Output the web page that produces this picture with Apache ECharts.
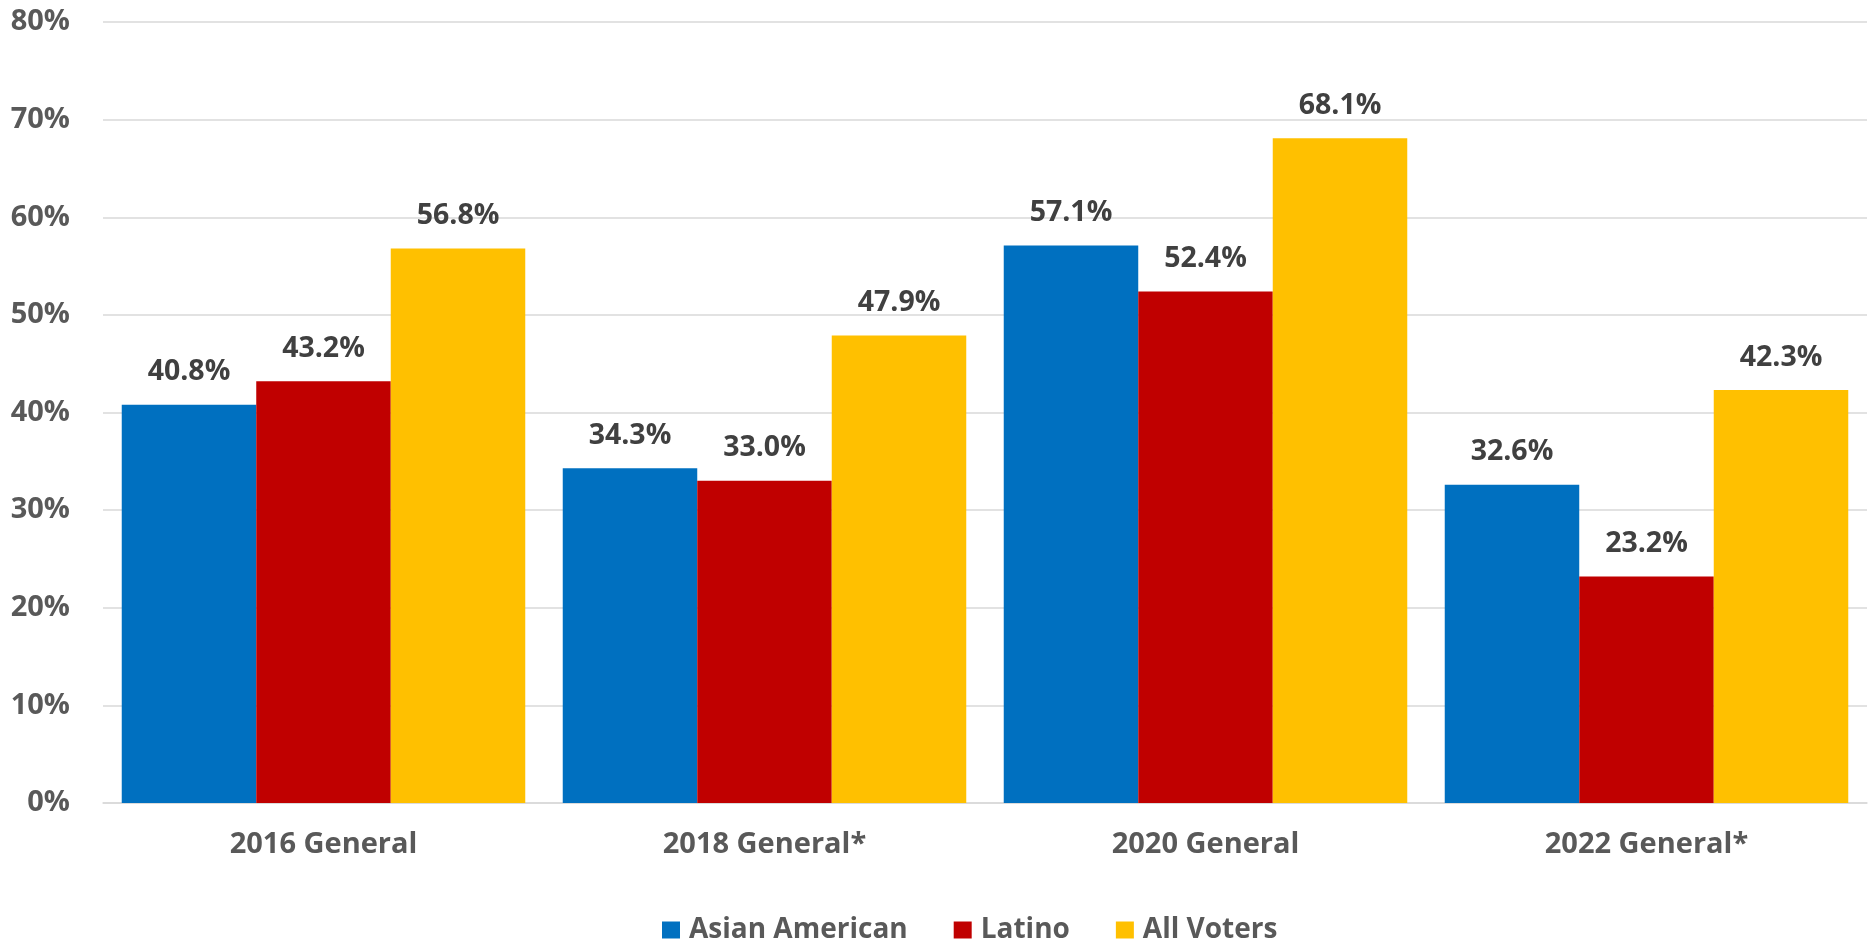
<!DOCTYPE html>
<html>
<head>
<meta charset="utf-8">
<script src="https://cdn.jsdelivr.net/npm/echarts@6/dist/echarts.min.js"></script>
<style>
html,body{margin:0;padding:0;background:#fff;}
#chart{width:1870px;height:940px;}
</style>
</head>
<body>
<div id="chart"></div>
<script>
const categories = ['2016 General', '2018 General*', '2020 General', '2022 General*'];
const asianAmerican = [40.8, 34.3, 57.1, 32.6];
const latino = [43.2, 33.0, 52.4, 23.2];
const allVoters = [56.8, 47.9, 68.1, 42.3];
const seriesNames = ['Asian American', 'Latino', 'All Voters'];
const seriesColors = ['#0070C0', '#C00000', '#FFC000'];
const yTicks = { min: 0, max: 80, interval: 10 };

const font = '"Open Sans", "DejaVu Sans", sans-serif';
const chart = echarts.init(document.getElementById('chart'));

function makeSeries(name, data, color) {
  return {
    name: name,
    type: 'bar',
    data: data,
    barGap: '0%',
    barCategoryGap: '8.5%',
    itemStyle: { color: color },
    label: {
      show: true,
      position: 'top',
      distance: 18,
      fontFamily: font,
      fontWeight: 'bold',
      fontSize: 28.5,
      color: '#404040',
      formatter: p => p.value.toFixed(1) + '%'
    },
    emphasis: { disabled: true }
  };
}

chart.setOption({
  backgroundColor: '#ffffff',
  animation: false,
  grid: { left: 103, right: 3, top: 22, bottom: 137, containLabel: false },
  legend: {
    data: seriesNames,
    left: 657,
    top: 911,
    itemWidth: 18,
    itemHeight: 17,
    itemGap: 46,
    icon: 'rect',
    textStyle: { fontFamily: font, fontWeight: 'bold', fontSize: 28, color: '#595959', padding: [0, 0, 0, 4] }
  },
  xAxis: {
    type: 'category',
    data: categories,
    axisLine: { show: true, lineStyle: { color: '#D9D9D9', width: 1.5 } },
    axisTick: { show: false },
    axisLabel: { margin: 27, fontFamily: font, fontWeight: 'bold', fontSize: 29, color: '#595959' }
  },
  yAxis: {
    type: 'value',
    min: yTicks.min,
    max: yTicks.max,
    interval: yTicks.interval,
    axisLine: { show: false },
    axisTick: { show: false },
    splitLine: { lineStyle: { color: '#D9D9D9', width: 1.5 } },
    axisLabel: { margin: 33, fontFamily: font, fontWeight: 'bold', fontSize: 29, color: '#595959', formatter: '{value}%' }
  },
  series: [
    makeSeries(seriesNames[0], asianAmerican, seriesColors[0]),
    makeSeries(seriesNames[1], latino, seriesColors[1]),
    makeSeries(seriesNames[2], allVoters, seriesColors[2])
  ]
});
</script>
</body>
</html>
